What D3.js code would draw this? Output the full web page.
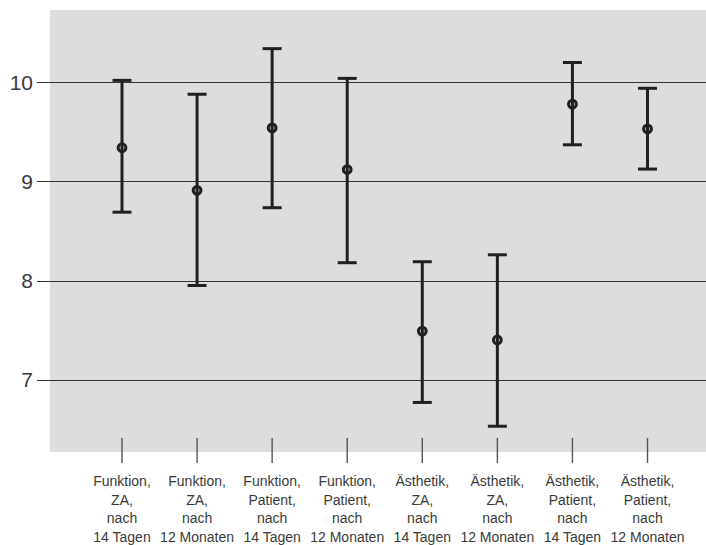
<!DOCTYPE html>
<html><head><meta charset="utf-8">
<script src="https://cdn.jsdelivr.net/npm/d3@7/dist/d3.min.js"></script>
<style>body{margin:0;background:#fff}</style>
</head><body>
<svg id="c" width="706" height="545"></svg>
<script>
const categories = [
  ["Funktion,","ZA,","nach","14 Tagen"],
  ["Funktion,","ZA,","nach","12 Monaten"],
  ["Funktion,","Patient,","nach","14 Tagen"],
  ["Funktion,","Patient,","nach","12 Monaten"],
  ["Ästhetik,","ZA,","nach","14 Tagen"],
  ["Ästhetik,","ZA,","nach","12 Monaten"],
  ["Ästhetik,","Patient,","nach","14 Tagen"],
  ["Ästhetik,","Patient,","nach","12 Monaten"]
];
const means = [9.34, 8.91, 9.54, 9.12, 7.49, 7.40, 9.78, 9.53];
const upper = [10.02, 9.88, 10.34, 10.04, 8.19, 8.26, 10.20, 9.94];
const lower = [8.69, 7.95, 8.735, 8.18, 6.77, 6.53, 9.37, 9.125];
const yTicks = [7, 8, 9, 10];

const svg = d3.select("#c");
const ids = categories.map((c,i)=>i);
const x = d3.scalePoint().domain(ids).range([122, 647.5]);
const y = d3.scaleLinear().domain([6.27, 10.73]).range([452, 10]);

svg.append("rect").attr("x",50).attr("y",y(10.73)).attr("width",656).attr("height",y(6.27)-y(10.73)).attr("fill","#dcdddf");

// grid lines + y labels
const yg = svg.append("g");
yTicks.forEach(t=>{
  yg.append("line").attr("x1",37).attr("x2",706).attr("y1",Math.round(y(t))+0.5).attr("y2",Math.round(y(t))+0.5)
    .attr("stroke","#333").attr("stroke-width",1.2);
  yg.append("text").attr("x",33).attr("y",y(t)).attr("dy","0.36em").attr("text-anchor","end")
    .attr("font-family","Liberation Sans, Arial, sans-serif").attr("font-size",21).attr("fill","#3a3a3a").text(t);
});

// x ticks
const xg = svg.append("g");
ids.forEach(i=>{
  xg.append("line").attr("x1",x(i)).attr("x2",x(i)).attr("y1",438).attr("y2",463)
    .attr("stroke","#555").attr("stroke-width",1.4);
  const t = xg.append("text").attr("text-anchor","middle")
    .attr("font-family","Liberation Sans, Arial, sans-serif").attr("font-size",14).attr("fill","#3a3a3a");
  categories[i].forEach((s,k)=>{
    t.append("tspan").attr("x",x(i)).attr("y",486+k*18.5).text(s);
  });
});

// error bars
const col = "#231f20";
const eg = svg.append("g");
ids.forEach(i=>{
  const cx = x(i);
  eg.append("line").attr("x1",cx).attr("x2",cx).attr("y1",y(upper[i])).attr("y2",y(lower[i])).attr("stroke",col).attr("stroke-width",3);
  [upper[i], lower[i]].forEach(v=>{
    eg.append("line").attr("x1",cx-9.5).attr("x2",cx+9.5).attr("y1",y(v)).attr("y2",y(v)).attr("stroke",col).attr("stroke-width",3);
  });
  eg.append("circle").attr("cx",cx).attr("cy",y(means[i])).attr("r",3.9).attr("fill","none").attr("stroke",col).attr("stroke-width",3);
});
</script>
</body></html>
